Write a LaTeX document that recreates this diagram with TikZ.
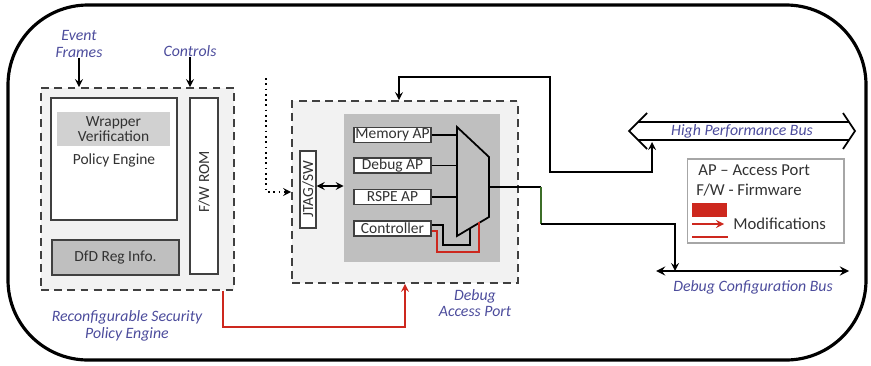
\documentclass[tikz,border=0pt]{standalone}
\usepackage{fontspec}
\setmainfont{Carlito}
\definecolor{lblue}{RGB}{76,76,156}
\definecolor{modred}{RGB}{205,40,30}
\definecolor{boxgray}{RGB}{191,191,191}
\definecolor{wiregreen}{RGB}{60,110,40}
\definecolor{inkgray}{RGB}{50,50,50}
\begin{document}
\begin{tikzpicture}[x=0.02cm,y=-0.02cm,>=stealth,
  box/.style={draw=black!75,line width=0.8pt,fill=white,inner sep=0pt,text=inkgray,font=\fontsize{8.8}{9}\selectfont},
  txt/.style={inner sep=0pt,text=inkgray,font=\fontsize{8.8}{9}\selectfont,align=center},
  dashbox/.style={draw=black!75,line width=1pt,dash pattern=on 4.5pt off 3pt,fill=black!5,inner sep=0pt},
  lbl/.style={inner sep=0pt,text=lblue,font=\fontsize{9}{9.5}\selectfont\itshape,align=center},
  legtxt/.style={inner sep=0pt,text=inkgray,font=\fontsize{9.5}{10}\selectfont,anchor=west},
  wire/.style={line width=1pt}]
\useasboundingbox (0,0) rectangle (871,365);
\draw[line width=1.8pt,rounded corners=1.6cm] (8,5) rectangle (866,360);

\node[dashbox,minimum width=3.86cm,minimum height=4.04cm] (rspe) at (137.5,189) {};
\node[box,minimum width=2.52cm,minimum height=2.44cm] (pol) at (114,159) {};
\node[txt,fill=black!18,minimum width=2.26cm,minimum height=0.68cm] (wrap) at (113.5,129) {Wrapper\\Verification};
\node[txt] (peng) at (114,160) {Policy Engine};
\node[box,fill=boxgray,minimum width=2.54cm,minimum height=0.7cm] (dfd) at (115.5,257.5) {DfD Reg Info.};
\node[box,minimum width=0.56cm,minimum height=3.52cm] (rom) at (204,186) {};
\node[txt,rotate=90] (romtxt) at (204,182) {F/W ROM};
\node[lbl] (evt) at (79,44) {Event\\Frames};
\node[lbl] (ctl) at (190,51) {Controls};
\draw[->,wire] (evt.south) -- (evt.south|-rspe.north);
\draw[->,wire] (ctl.south) -- (ctl.south|-rspe.north);
\node[lbl] (rspelbl) at (127,326) {Reconfigurable Security\\Policy Engine};

\node[dashbox,minimum width=4.52cm,minimum height=3.64cm] (dap) at (405,192) {};
\node[fill=boxgray,minimum width=3.12cm,minimum height=2.96cm,inner sep=0pt] (core) at (422,188) {};
\node[box,minimum width=0.32cm,minimum height=1.54cm] (jtag) at (308,189.5) {};
\node[txt,rotate=90] (jtagtxt) at (308,189.5) {JTAG/SW};
\foreach \y/\n/\t in {135/memap/Memory AP,165.5/dbgap/Debug AP,197/rspeap/RSPE AP,228.5/ctrl/Controller}
  \node[box,minimum width=1.54cm,minimum height=0.3cm] (\n) at (392.5,\y) {\t};
\node[lbl] (daplbl) at (475,303) {Debug\\Access Port};

\coordinate (m1) at (457,127);
\coordinate (m2) at (489,157);
\coordinate (m3) at (489,217);
\coordinate (m4) at (457,236);
\coordinate (mo) at (489,187);
\draw[wire,fill=boxgray] (m1) -- (m2) -- (m3) -- (m4) -- cycle;
\foreach \n in {memap,dbgap,rspeap}
  \draw[wire] (\n.east) -- (\n.east-|m1);
\draw[wire] ([yshift=2pt]ctrl.east) -| (443,245) -| (470,229);
\draw[wire,modred] ([yshift=-1.4pt]ctrl.east) -| (437,252) -| (479,222);
\draw[<->,wire] ([yshift=2pt]jtag.east) -- ([yshift=2pt]jtag.east-|core.west);

\coordinate (dot0) at (266,78);
\draw[->,dotted,line width=1pt] (dot0) |- (dap.west);

\coordinate (redturn) at (405,327);
\draw[->,wire,modred] ([xshift=-6.8pt]rspe.south east) |- (redturn) -- (dap.south);

\coordinate (hpbL) at (629,131);
\coordinate (hpbR) at (855,131);
\coordinate (hpbB) at (652,142);
\draw[line width=1pt] (647,113) -- (hpbL) -- (647,149)
  (843,113) -- (hpbR) -- (843,149)
  (638,122) -- (849,122) (638,140) -- (849,140);
\node[lbl] (hpblbl) at (742,131) {High Performance Bus};
\draw[<->,wire] ([xshift=-3.4pt]dap.north) |- (550,77) |- (652,172) -- (hpbB);

\coordinate (dcbL) at (656,271);
\coordinate (dcbR) at (849,271);
\coordinate (dcbT) at (675,271);
\draw[<->,line width=1.3pt] (dcbL) -- (dcbR);
\node[lbl] (dcblbl) at (753,287) {Debug Configuration Bus};
\draw[wire] (mo) -- (541,187);
\draw[wire,wiregreen] (541,187) -- (541,224);
\draw[->,wire] (541,224) -| (dcbT);

\node[draw=black!35,line width=0.6pt,minimum width=3.14cm,minimum height=1.68cm,inner sep=0pt] (leg) at (765.5,201) {};
\node[legtxt] (leg1) at (698,170) {AP – Access Port};
\node[legtxt] (leg2) at (696,190) {F/W - Firmware};
\node[fill=modred,minimum width=0.7cm,minimum height=0.28cm,inner sep=0pt] (modbox) at (709.5,210) {};
\coordinate (ma) at (692,224);
\coordinate (mb) at (692,237);
\draw[->,wire,modred] (ma) -- ++(32,0);
\draw[wire,modred] (mb) -- ++(36,0);
\node[legtxt] (mod) at (733,224) {Modifications};
\end{tikzpicture}
\end{document}
